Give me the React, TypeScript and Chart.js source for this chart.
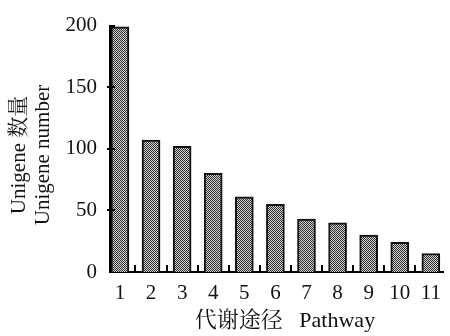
import React, { useEffect, useRef } from "react";
import { Chart, registerables } from "chart.js";

Chart.register(...registerables);

const pathways = [1, 2, 3, 4, 5, 6, 7, 8, 9, 10, 11];
const unigeneCounts = [199, 107, 102, 80, 61, 55, 43, 40, 30, 24, 15];
const yTicks = [0, 50, 100, 150, 200];
const xTitle = "代谢途径   Pathway";
const yTitleLines = ["Unigene 数量", "Unigene number"];

const FONT = '"Liberation Serif", "Noto Serif CJK SC", "Noto Sans CJK SC", serif';

export default function App() {
  const ref = useRef<HTMLCanvasElement | null>(null);

  useEffect(() => {
    document.body.style.margin = "0";
    const canvas = ref.current!;
    const pc = document.createElement("canvas");
    pc.width = 2;
    pc.height = 2;
    const pctx = pc.getContext("2d")!;
    pctx.fillStyle = "#d4d4d4";
    pctx.fillRect(0, 0, 2, 2);
    pctx.fillStyle = "#2e2e2e";
    pctx.fillRect(0, 0, 1, 1);
    pctx.fillRect(1, 1, 1, 1);
    const pattern = canvas.getContext("2d")!.createPattern(pc, "repeat")!;

    const decor = {
      id: "decor",
      afterDraw(chart: any) {
        const ctx = chart.ctx;
        const xs = chart.scales.x;
        const ys = chart.scales.y;
        const area = chart.chartArea;
        ctx.save();
        ctx.strokeStyle = "#000";
        ctx.lineWidth = 2;
        yTicks.forEach((v) => {
          if (v === 0) return;
          const py = Math.round(ys.getPixelForValue(v));
          ctx.beginPath();
          ctx.moveTo(area.left - (v === yTicks[yTicks.length - 1] ? 0 : 3), py);
          ctx.lineTo(area.left + 5, py);
          ctx.stroke();
        });
        pathways.forEach((p) => {
          const px = Math.round(xs.getPixelForValue(p + 0.5));
          if (px > area.right + 1) return;
          ctx.beginPath();
          ctx.moveTo(px, area.bottom);
          ctx.lineTo(px, area.bottom - 7);
          ctx.stroke();
        });
        ctx.fillStyle = "#111";
        ctx.font = "22px " + FONT;
        ctx.textAlign = "center";
        ctx.textBaseline = "middle";
        ctx.fillText(xTitle, 285, 321);
        ctx.font = "21px " + FONT;
        ctx.translate(0, 155);
        ctx.rotate(-Math.PI / 2);
        ctx.fillText(yTitleLines[0], 0, 19);
        ctx.fillText(yTitleLines[1], 0, 43);
        ctx.restore();
      },
    };

    const chart = new Chart(canvas, {
      type: "bar",
      data: {
        datasets: [
          {
            data: pathways.map((p, i) => ({ x: p, y: unigeneCounts[i] })),
            backgroundColor: pattern,
            borderColor: "#111",
            borderWidth: 2,
            barThickness: 18,
          } as any,
        ],
      },
      options: {
        animation: false,
        responsive: false,
        layout: { padding: { top: 22, right: 1, left: 0, bottom: 0 } },
        plugins: { legend: { display: false }, tooltip: { enabled: false } },
        scales: {
          x: {
            type: "linear",
            offset: false,
            min: 0.68,
            max: 11.4,
            grid: { display: false, drawTicks: false },
            border: { display: true, color: "#000", width: 2 },
            afterBuildTicks: (s: any) => {
              s.ticks = pathways.map((v) => ({ value: v }));
            },
            afterFit: (s: any) => {
              s.height = 64;
            },
            ticks: {
              color: "#111",
              font: { family: FONT, size: 21 },
              padding: 9,
              maxRotation: 0,
              autoSkip: false,
              callback: (v: any) => String(v),
            },
          },
          y: {
            min: 0,
            max: 200,
            grid: { display: false, drawTicks: false },
            border: { display: true, color: "#000", width: 2 },
            afterBuildTicks: (s: any) => {
              s.ticks = yTicks.map((v) => ({ value: v }));
            },
            afterFit: (s: any) => {
              s.width = 110;
            },
            ticks: {
              color: "#111",
              font: { family: FONT, size: 21 },
              padding: 13,
              callback: (v: any) => String(v),
            },
          },
        },
      },
      plugins: [decor],
    });
    return () => chart.destroy();
  }, []);

  return <canvas ref={ref} width={450} height={336} style={{ display: "block" }} />;
}
